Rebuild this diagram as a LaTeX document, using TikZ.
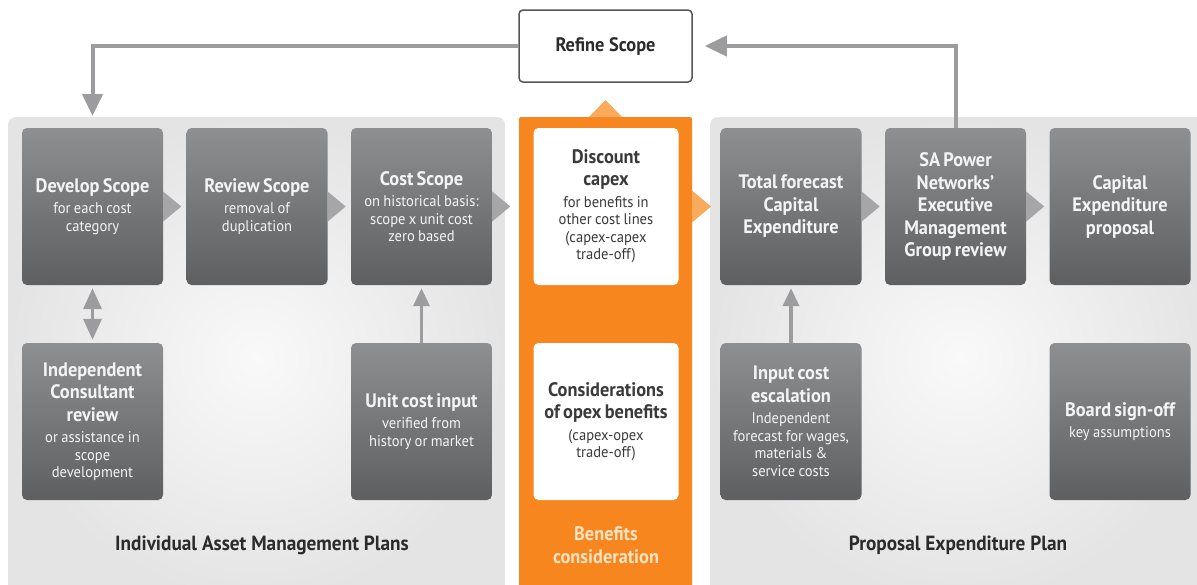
\documentclass[tikz,border=0pt]{standalone}
\usepackage{fontspec}
\setmainfont{PT Sans}[FakeStretch=0.94]
\usetikzlibrary{arrows.meta}
\definecolor{boxtop}{HTML}{8E8F91}
\definecolor{boxbot}{HTML}{5E5F61}
\definecolor{panelin}{HTML}{F9F9F9}
\definecolor{panelout}{HTML}{E4E4E5}
\definecolor{orng}{HTML}{F7861E}
\definecolor{lorng}{HTML}{FAAA5C}
\definecolor{arr}{HTML}{9C9C9E}
\definecolor{chev}{HTML}{A6A6A8}
\definecolor{cream}{HTML}{FDE3C2}
\definecolor{txtd}{HTML}{2B2B2B}
\definecolor{txtm}{HTML}{3A3A3A}
\definecolor{wtxt}{HTML}{F4F4F4}
\definecolor{rbord}{HTML}{555555}
\newcommand\ttlf{\fontsize{19.5}{22.5}\selectfont\bfseries}
\newcommand\sbtf{\fontsize{15.5}{17.5}\selectfont}
\newcommand\bxt[2]{{\ttlf #1\par}\vskip4pt{\sbtf #2\par}}
\newcommand\bxo[1]{{\ttlf #1\par}}
\tikzset{
  gbox/.style={rectangle, rounded corners=5pt, top color=boxtop, bottom color=boxbot,
    minimum width=141pt, minimum height=157pt, inner sep=0pt, text width=139pt,
    align=center, text=wtxt},
  wbox/.style={rectangle, rounded corners=5pt, fill=white,
    minimum width=145pt, minimum height=157pt, inner sep=0pt, text width=143pt,
    align=center, text=txtm},
  grouplabel/.style={font=\fontsize{20.5}{24}\selectfont\bfseries, text=txtd},
  loop/.style={draw=arr, line width=4pt, -{Triangle[length=22pt,width=20pt]}},
  uparr/.style={draw=arr, line width=3.5pt, -{Triangle[length=18pt,width=16pt]}},
  dblarr/.style={draw=arr, line width=3.5pt, {Triangle[length=21pt,width=18pt]}-{Triangle[length=21pt,width=18pt]}},
  chevg/.style={fill=chev},
  chevo/.style={fill=lorng},
}
\begin{document}
\begin{tikzpicture}[x=1pt,y=-1pt]
\useasboundingbox (0,0) rectangle (1197,584);
% panels
\shade[inner color=panelin, outer color=panelout, rounded corners=8pt] (8,117) rectangle (505,600);
\shade[inner color=panelin, outer color=panelout, rounded corners=8pt] (710,117) rectangle (1210,600);
\fill[orng, rounded corners=2pt] (519,117) rectangle (692,600);
\fill[lorng] (589,117) -- (605.5,100) -- (622,117) -- cycle;

% refine scope
\node[draw=rbord, line width=1.5pt, rounded corners=4pt, fill=white, minimum width=173pt,
  minimum height=72pt, font=\fontsize{19.5}{22}\selectfont\bfseries, text=txtd] (refine) at (605.5,46) {Refine Scope};

% left group
\node[gbox] (dev) at (92.5,206.5) {\bxt{Develop Scope}{for each cost\\category}};
\node[gbox] (rev) at (257,206.5) {\bxt{Review Scope}{removal of\\duplication}};
\node[gbox] (cost) at (421.5,206.5) {\bxt{Cost Scope}{on historical basis:\\scope x unit cost\\zero based}};
\node[gbox] (ind) at (92.5,421.5) {\bxt{Independent\\Consultant\\review}{or assistance in\\scope\\development}};
\node[gbox] (unit) at (421.5,421.5) {\bxt{Unit cost input}{verified from\\history or market}};
\node[grouplabel] (iamp) at (262,545) {Individual Asset Management Plans};

% middle group
\node[wbox] (disc) at (606,206.5) {\bxt{Discount\\capex}{for benefits in\\other cost lines\\(capex-capex\\trade-off)}};
\node[wbox] (cons) at (606,421.5) {\bxt{Considerations\\of opex benefits}{(capex-opex\\trade-off)}\vskip8pt};
\node[font=\fontsize{19.5}{22.5}\selectfont\bfseries, text=cream, align=center] (ben) at (606,545) {Benefits\\consideration};

% right group
\node[gbox] (tot) at (791,206.5) {\bxo{Total forecast\\Capital\\Expenditure}};
\node[gbox] (sa) at (955.5,206.5) {\bxo{SA Power\\Networks'\\Executive\\Management\\Group review}};
\node[gbox] (cap) at (1120,206.5) {\bxo{Capital\\Expenditure\\proposal}};
\node[gbox] (inp) at (791,421.5) {\bxt{Input cost\\escalation}{Independent\\forecast for wages,\\materials \&\\service costs}};
\node[gbox] (board) at (1120,421.5) {\bxt{Board sign-off}{key assumptions}\vskip10pt};
\node[grouplabel] (pep) at (958,545) {Proposal Expenditure Plan};

% chevrons
\foreach \n in {dev,rev,cost,tot,sa}{
  \fill[chevg] (\n.east) +(0,-15) -- +(18,0) -- +(0,15) -- cycle;
}
\fill[chevo] (692,206.5) +(0,-16) -- +(19,0) -- +(0,16) -- cycle;

% connectors
\coordinate (lp) at (92.5,116);
\draw[loop] (refine.west) -| (lp);
\coordinate (rp) at ([xshift=12pt]refine.east);
\draw[loop] (sa.north) |- (rp);
\draw[dblarr, shorten <=3pt, shorten >=3pt] (dev.south) -- (ind.north);
\draw[uparr, shorten >=3pt] (unit.north) -- (cost.south);
\draw[uparr, shorten >=3pt] (inp.north) -- (tot.south);
\end{tikzpicture}
\end{document}
